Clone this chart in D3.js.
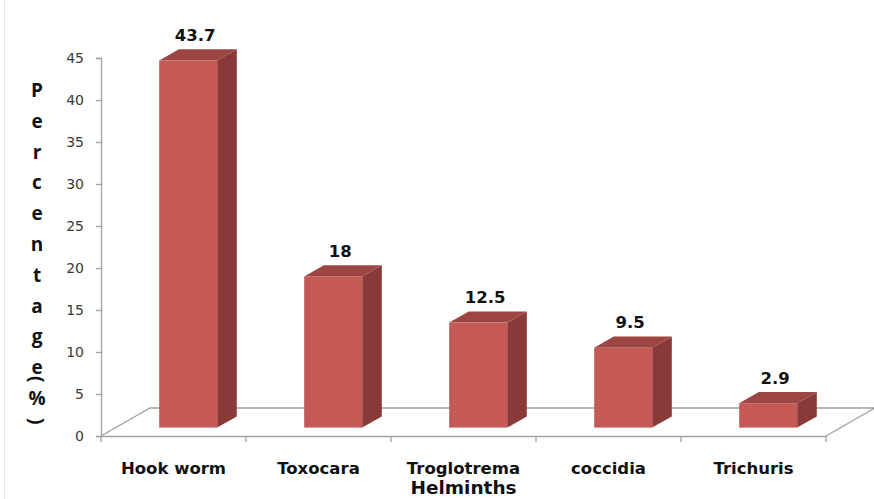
<!DOCTYPE html>
<html>
<head>
<meta charset="utf-8">
<script src="https://cdn.jsdelivr.net/npm/d3@7"></script>
<style>
  html, body { margin: 0; padding: 0; background: #fff; }
  svg { display: block; }
</style>
</head>
<body>
<svg id="chart" width="874" height="499"></svg>
<script>
// Prevalence of helminth infections (%)
const categories = ["Hook worm", "Toxocara", "Troglotrema", "coccidia", "Trichuris"];
const values = [43.7, 18, 12.5, 9.5, 2.9];
const yTicks = [0, 5, 10, 15, 20, 25, 30, 35, 40, 45];
const yTitle = "Percentage";
const xTitle = "Helminths";

const W = 874, H = 499;
const plot = { left: 101, right: 826, bottom: 436, top: 58 };

// oblique projection of the floor depth
const depth = { dx: 49, dy: -28 };
const frontAt = 0.3, backAt = 0.7;
const fShift = { dx: depth.dx * frontAt, dy: depth.dy * frontAt };
const bDepth = { dx: depth.dx * (backAt - frontAt), dy: depth.dy * (backAt - frontAt) };

const colors = { front: "#c45956", side: "#893a38", top: "#9c4542", axis: "#a3a3a3" };

const svg = d3.select("#chart");

const y = d3.scaleLinear().domain([0, 45]).range([plot.bottom, plot.top]);
const x = d3.scaleBand().domain(categories).range([plot.left, plot.right])
  .paddingInner(0.6).paddingOuter(0.3);
const xTick = d3.scaleBand().domain(categories).range([plot.left, plot.right]);

// faint frame line at the left edge
svg.append("line").attr("x1", 4.5).attr("x2", 4.5).attr("y1", 0).attr("y2", H)
  .attr("stroke", "#e6e6e6").attr("stroke-width", 1);

// floor
const fl = [
  [plot.left, plot.bottom],
  [plot.left + depth.dx, plot.bottom + depth.dy],
  [plot.right + depth.dx, plot.bottom + depth.dy],
  [plot.right, plot.bottom]
];
svg.append("path")
  .attr("d", d3.line()(fl))
  .attr("fill", "none").attr("stroke", colors.axis).attr("stroke-width", 1.3);

// y axis
const yAxis = d3.axisLeft(y).tickValues(yTicks).tickSize(5).tickPadding(12).tickFormat(d3.format("d"));
const gy = svg.append("g").attr("transform", `translate(${plot.left},0)`).call(yAxis);
gy.select(".domain").attr("stroke", colors.axis).attr("stroke-width", 1.3);
gy.selectAll(".tick line").attr("stroke", colors.axis).attr("stroke-width", 1.3);
gy.selectAll(".tick text").attr("font-family", "DejaVu Sans, sans-serif")
  .attr("font-size", 14).attr("fill", "#3a3a3a");

// x axis (front edge of floor)
const xAxis = d3.axisBottom(xTick).tickSize(0).tickFormat("");
const gx = svg.append("g").attr("transform", `translate(0,${plot.bottom})`).call(xAxis);
gx.select(".domain").attr("stroke", colors.axis).attr("stroke-width", 1.3);
gx.selectAll(".tick").remove();
const edges = categories.map(c => xTick(c)).concat([plot.right]);
gx.selectAll("line.edge").data(edges).enter().append("line")
  .attr("class", "edge")
  .attr("x1", d => d).attr("x2", d => d).attr("y1", 0).attr("y2", 6)
  .attr("stroke", colors.axis).attr("stroke-width", 1.3);

// category labels
svg.selectAll("text.cat").data(categories).enter().append("text")
  .attr("class", "cat")
  .attr("x", d => xTick(d) + xTick.bandwidth() / 2)
  .attr("y", 468)
  .attr("dominant-baseline", "central")
  .attr("text-anchor", "middle")
  .attr("font-family", "DejaVu Sans, sans-serif")
  .attr("font-weight", "bold")
  .attr("font-size", 16.5)
  .attr("fill", "#111")
  .text(d => d);

// bars
const bars = svg.selectAll("g.bar").data(categories.map((c, i) => ({ c, v: values[i] })))
  .enter().append("g").attr("class", "bar");

function geom(d) {
  const x0 = x(d.c) + fShift.dx;
  const w = x.bandwidth();
  const yT = y(d.v) + fShift.dy;
  const yB = y(0) + fShift.dy;
  return { x0, w, yT, yB };
}

bars.append("path").attr("fill", colors.side).attr("d", d => {
  const g = geom(d);
  return d3.line()([
    [g.x0 + g.w, g.yT], [g.x0 + g.w + bDepth.dx, g.yT + bDepth.dy],
    [g.x0 + g.w + bDepth.dx, g.yB + bDepth.dy], [g.x0 + g.w, g.yB]
  ]) + "Z";
});
bars.append("path").attr("fill", colors.top).attr("d", d => {
  const g = geom(d);
  return d3.line()([
    [g.x0, g.yT], [g.x0 + bDepth.dx, g.yT + bDepth.dy],
    [g.x0 + g.w + bDepth.dx, g.yT + bDepth.dy], [g.x0 + g.w, g.yT]
  ]) + "Z";
});
bars.append("rect").attr("fill", colors.front)
  .attr("x", d => geom(d).x0).attr("y", d => geom(d).yT)
  .attr("width", x.bandwidth()).attr("height", d => geom(d).yB - geom(d).yT);

// value labels
bars.append("text")
  .attr("x", d => geom(d).x0 + x.bandwidth() / 2 + 7)
  .attr("y", d => geom(d).yT + bDepth.dy - 14)
  .attr("dominant-baseline", "central")
  .attr("text-anchor", "middle")
  .attr("font-family", "DejaVu Sans, sans-serif")
  .attr("font-weight", "bold")
  .attr("font-size", 16.5)
  .attr("fill", "#111")
  .text(d => d.v);

// stacked vertical y title: letters, then rotated "(", "%", rotated ")"
const yt = svg.append("g").attr("font-family", "Open Sans, sans-serif")
  .attr("font-weight", "bold").attr("font-size", 19).attr("fill", "#111")
  .attr("text-anchor", "middle");
const tx = 37, ty0 = 90, step = 30.8;
yt.selectAll("text.l").data(yTitle.split("")).enter().append("text")
  .attr("class", "l")
  .attr("x", tx).attr("y", (d, i) => ty0 + i * step)
  .attr("dominant-baseline", "central")
  .text(d => d);
const tEnd = ty0 + (yTitle.length - 1) * step;
yt.append("text").attr("transform", `translate(${tx},${tEnd + 12}) rotate(90)`)
  .attr("dominant-baseline", "central").text("(");
yt.append("text").attr("x", tx).attr("y", tEnd + 31)
  .attr("dominant-baseline", "central").text("%");
yt.append("text").attr("transform", `translate(${tx},${tEnd + 54}) rotate(90)`)
  .attr("dominant-baseline", "central").text(")");

// x title
svg.append("text")
  .attr("x", (plot.left + plot.right) / 2).attr("y", 487)
  .attr("dominant-baseline", "central").attr("text-anchor", "middle")
  .attr("font-family", "DejaVu Sans, sans-serif").attr("font-weight", "bold")
  .attr("font-size", 18.5).attr("fill", "#111")
  .text(xTitle);
</script>
</body>
</html>
